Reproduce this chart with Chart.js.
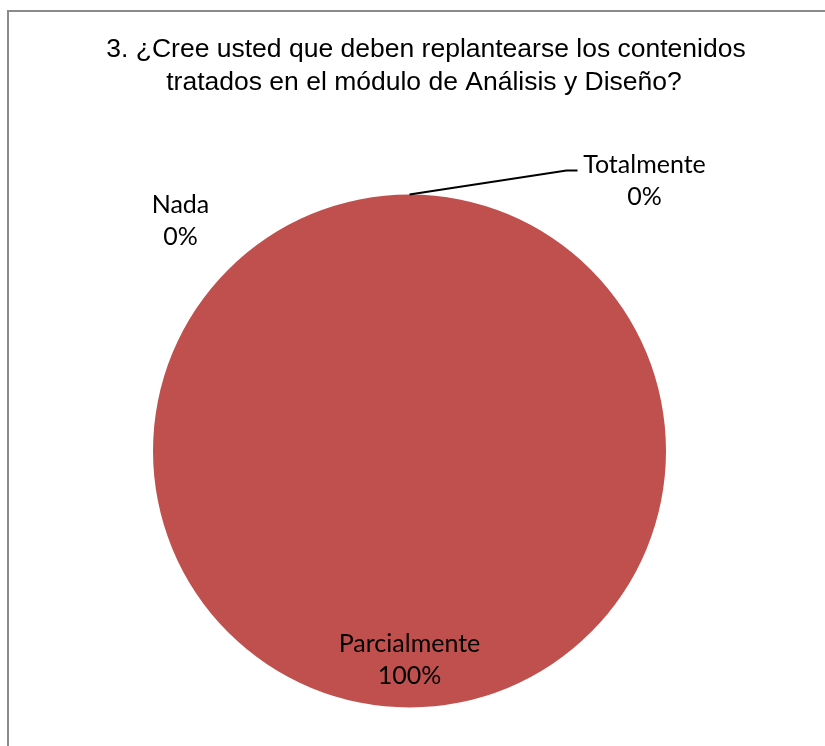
<!DOCTYPE html>
<html lang="es">
<head>
    <meta charset="UTF-8">
    <title>Análisis y Diseño</title>
    <script src="https://cdn.jsdelivr.net/npm/chart.js"></script>
    <style>
        html, body { margin: 0; padding: 0; background: #fff; }
        .grafico { position: relative; width: 825px; height: 746px; }
    </style>
</head>
<body>
    <div class="grafico">
        <canvas id="pregunta3"></canvas>
    </div>

<script>
var categorias = ['Totalmente', 'Parcialmente', 'Nada'];
var valores = [0, 100, 0];
var tituloLineas = ['3. ¿Cree usted que deben replantearse los contenidos', 'tratados en el módulo de Análisis y Diseño?'];

// offsets of the outside labels (for empty slices) relative to the point on the rim
var etiquetasFuera = {
    0: { dx: 235, dy: -18, leader: true },
    2: { dx: -229, dy: 22, leader: false }
};

var marcoYTitulo = {
    id: 'marcoYTitulo',
    beforeDraw(chart) {
        var ctx = chart.ctx;
        ctx.save();
        ctx.strokeStyle = '#8a8a8a';
        ctx.lineWidth = 2;
        ctx.strokeRect(8, 11, 900, 900);
        ctx.fillStyle = '#000';
        ctx.font = '26.5px "Liberation Sans", Arial, sans-serif';
        ctx.textAlign = 'center';
        ctx.textBaseline = 'alphabetic';
        ctx.fillText(tituloLineas[0], 426, 57);
        ctx.fillText(tituloLineas[1], 424, 90);
        ctx.restore();
    }
};

var etiquetas = {
    id: 'etiquetas',
    afterDatasetsDraw(chart) {
        var ctx = chart.ctx;
        var meta = chart.getDatasetMeta(0);
        var total = valores.reduce((a, b) => a + b, 0);
        ctx.save();
        ctx.font = '25px Lato, "Open Sans", sans-serif';
        ctx.fillStyle = '#000';
        ctx.textAlign = 'center';
        ctx.textBaseline = 'alphabetic';
        meta.data.forEach((arc, i) => {
            var p = arc.getProps(['x', 'y', 'startAngle', 'endAngle', 'outerRadius'], true);
            var pct = Math.round(valores[i] / total * 100) + '%';
            var mid = (p.startAngle + p.endAngle) / 2;
            var tx, ty;
            if (valores[i] > 0) {
                tx = p.x + Math.cos(mid) * p.outerRadius * 0.8;
                ty = p.y + Math.sin(mid) * p.outerRadius * 0.8;
            } else {
                var rx = p.x + Math.cos(mid) * p.outerRadius;
                var ry = p.y + Math.sin(mid) * p.outerRadius;
                var off = etiquetasFuera[i];
                tx = rx + off.dx;
                ty = ry + off.dy;
                if (off.leader) {
                    ctx.strokeStyle = '#000';
                    ctx.lineWidth = 2;
                    ctx.beginPath();
                    ctx.moveTo(rx, ry);
                    ctx.lineTo(tx - 78, ty - 6);
                    ctx.lineTo(tx - 67, ty - 6);
                    ctx.stroke();
                }
            }
            ctx.fillText(categorias[i], tx, ty - 4);
            ctx.fillText(pct, tx, ty + 28);
        });
        ctx.restore();
    }
};

new Chart(document.getElementById('pregunta3'), {
    type: 'pie',
    data: {
        labels: categorias,
        datasets: [{
            data: valores,
            backgroundColor: ['#4f81bd', '#c0504d', '#9bbb59'],
            borderWidth: 0
        }]
    },
    options: {
        responsive: true,
        maintainAspectRatio: false,
        animation: false,
        layout: {
            padding: { top: 194, bottom: 38, left: 153, right: 159 }
        },
        plugins: {
            legend: { display: false },
            title: { display: false },
            tooltip: { enabled: false }
        }
    },
    plugins: [marcoYTitulo, etiquetas]
});
</script>
</body>
</html>
